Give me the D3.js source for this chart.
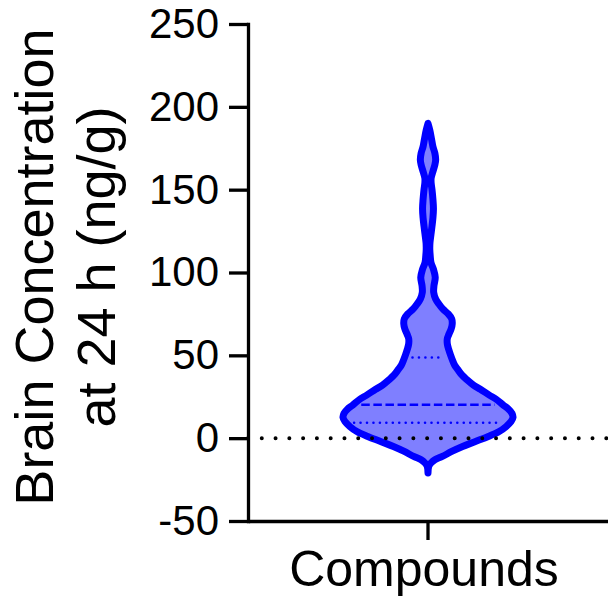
<!DOCTYPE html>
<html>
<head>
<meta charset="utf-8">
<script src="https://cdn.jsdelivr.net/npm/d3@7"></script>
<style>
  html, body { margin: 0; padding: 0; background: #fff; }
  svg { display: block; }
  text { font-family: "Liberation Sans", Arial, sans-serif; fill: #000; }
</style>
</head>
<body>
<svg id="chart" width="608" height="602"></svg>
<script>
// Group on the x axis
const groups = ["Compounds"];

// Y axis ticks (ng/g)
const yTicks = [-50, 0, 50, 100, 150, 200, 250];

// Kernel density profile of brain concentration (ng/g) -> relative density (%)
const concProfile = [-21, -17, -15, -13, -11, -8, -5, -2, 1, 4, 7, 10, 12.5, 15, 17.5,
  20, 23.5, 26, 29.5, 32, 35.5, 38, 41.5, 44, 47.5, 50, 53.5, 57, 60, 62.5,
  66, 69, 72, 75, 78, 81, 84, 88, 92, 97, 102, 106, 110, 114, 118,
  123, 128, 133, 138.5, 144, 150, 154, 157, 161, 165, 168, 172, 176, 181, 186, 190];
const densityProfile = [0, 0.9, 3.5, 8.1, 16.9, 27.9, 40.7, 55.8, 70.9, 83.7, 91.9, 97.7, 100, 98.8, 94.8,
  88.4, 80.2, 72.1, 61.6, 53.5, 45.3, 40.1, 34.9, 31.4, 28.5, 26.7, 24.4, 22.7, 22.7, 24.4,
  27.3, 28.5, 27.9, 23.8, 17.4, 12.8, 9.0, 6.7, 7.0, 8.5, 6.4, 3.5, 2.6, 2.1, 2.3,
  3.5, 4.7, 5.8, 6.4, 5.8, 4.7, 3.7, 3.7, 5.8, 8.1, 9.0, 8.1, 5.8, 4.0, 2.1, 0];

// Quartiles (ng/g)
const q1 = 9.3, median = 20.2, q3 = 48.7;

const svg = d3.select("#chart");
const margin = { left: 248, right: 0, top: 24, bottom: 81 };
const W = 608, H = 602;
const font = '"Liberation Sans", Arial, sans-serif';

const x = d3.scaleBand().domain(groups).range([margin.left, W - margin.right]);
const y = d3.scaleLinear().domain([-50, 250]).range([H - margin.bottom, margin.top]);
const w = d3.scaleLinear().domain([0, 100]).range([0, 85]);
const densityAt = d3.scaleLinear().domain(concProfile).range(densityProfile);

const profile = concProfile.map((v, i) => ({ v, d: densityProfile[i] }));
const cx = x("Compounds") + x.bandwidth() / 2;

// Violin body
const area = d3.area()
  .y(d => y(d.v))
  .x0(d => cx - w(d.d))
  .x1(d => cx + w(d.d))
  .curve(d3.curveCatmullRom.alpha(0.5));

svg.append("path")
  .datum(profile)
  .attr("d", area)
  .attr("fill", "rgba(0,0,255,0.5)")
  .attr("stroke", "#0000ff")
  .attr("stroke-width", 7)
  .attr("stroke-linejoin", "round");

// Quartile lines inside the violin
const quartiles = [
  { v: q1, dash: "0,6.45", width: 2.6, cap: "round" },
  { v: median, dash: "8.5,3.6", width: 2.4, cap: "butt" },
  { v: q3, dash: "0,6.45", width: 2.6, cap: "round" }
];
svg.selectAll("line.quart")
  .data(quartiles)
  .join("line")
  .attr("class", "quart")
  .attr("x1", d => cx - w(densityAt(d.v)) + 8)
  .attr("x2", d => cx + w(densityAt(d.v)) - 8)
  .attr("y1", d => y(d.v))
  .attr("y2", d => y(d.v))
  .attr("stroke", "#0000ff")
  .attr("stroke-width", d => d.width)
  .attr("stroke-dasharray", d => d.dash)
  .attr("stroke-linecap", d => d.cap);

// Zero reference line
svg.append("line")
  .attr("x1", margin.left).attr("x2", W)
  .attr("y1", y(0)).attr("y2", y(0))
  .attr("stroke", "#000")
  .attr("stroke-width", 4)
  .attr("stroke-dasharray", "0,13.78")
  .attr("stroke-linecap", "round");

// Axes
const yAxis = svg.append("g")
  .attr("transform", `translate(${margin.left},0)`)
  .call(d3.axisLeft(y).tickValues(yTicks).tickFormat(d => String(d))
    .tickSize(19).tickSizeOuter(0).tickPadding(10));
yAxis.select(".domain").attr("stroke-width", 3.3).attr("stroke-linecap", "square");
yAxis.selectAll(".tick line").attr("stroke-width", 3.3);
yAxis.selectAll(".tick text")
  .style("font-size", "42px")
  .style("font-family", font);

const xAxis = svg.append("g")
  .attr("transform", `translate(0,${y(-50)})`)
  .call(d3.axisBottom(x).tickSize(19).tickSizeOuter(0).tickFormat(() => ""));
xAxis.select(".domain").attr("stroke-width", 3.3);
xAxis.selectAll(".tick line").attr("stroke-width", 3.3);

// Axis titles
svg.append("text")
  .attr("x", cx - 4).attr("y", 586)
  .attr("text-anchor", "middle")
  .style("font-size", "50px")
  .text("Compounds");

const yTitle = svg.append("text")
  .attr("transform", "translate(53,267) rotate(-90)")
  .attr("text-anchor", "middle")
  .style("font-size", "54px");
yTitle.append("tspan").attr("x", 0).attr("dy", 0).text("Brain Concentration");
yTitle.append("tspan").attr("x", 0).attr("dy", 62).text("at 24 h (ng/g)");
</script>
</body>
</html>
